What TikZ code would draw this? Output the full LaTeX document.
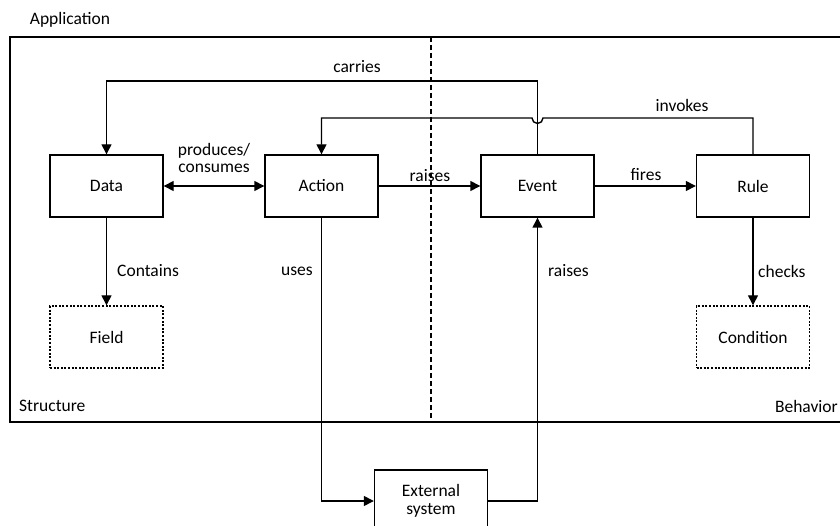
\documentclass[tikz,border=0pt]{standalone}
\usepackage{fontspec}
\setmainfont{Carlito}
\usetikzlibrary{arrows.meta}

\tikzset{
  box/.style={draw, line width=1.4pt, minimum width=113pt, minimum height=62pt,
              align=center, inner sep=2pt, font=\fontsize{17.5}{20}\selectfont},
  dotbox/.style={box, dash pattern=on 2pt off 1.6pt},
  conn/.style={line width=1.4pt},
  arr/.style={conn, -{Triangle[length=10pt,width=10pt]}},
  biarr/.style={conn, {Triangle[length=10pt,width=10pt]}-{Triangle[length=10pt,width=10pt]}},
  lbl/.style={font=\fontsize{17.5}{19}\selectfont, inner sep=0pt, align=center},
  frame/.style={draw, line width=1.4pt},
  divider/.style={line width=1.4pt, dash pattern=on 5pt off 3pt}
}

\begin{document}
\begin{tikzpicture}[x=1pt, y=-1pt]
  \useasboundingbox (0,0) rectangle (840,526);

  % application frame and structure/behavior divider
  \draw[frame] (10,37) rectangle (850,422);
  \coordinate (divtop) at (431,37);
  \coordinate (divbot) at (431,422);
  \draw[divider] (divtop) -- (divbot);

  \node[lbl] (app) at (70,20) {Application};
  \node[lbl, anchor=west] (structure) at (19,406) {Structure};
  \node[lbl, anchor=east] (behavior) at (838,406) {Behavior};

  % main elements
  \node[box] (data) at (106.5,186) {Data};
  \node[box] (action) at (321.5,186) {Action};
  \node[box] (event) at (537.5,186) {Event};
  \node[box] (rule) at (753,186) {Rule};
  \node[dotbox] (field) at (106.5,337) {Field};
  \node[dotbox] (condition) at (753,337) {Condition};
  \node[box] (ext) at (431,501) {External\\[-2pt]system};

  % connectors
  \draw[biarr] (data.east) -- (action.west);
  \node[lbl] (prodlbl) at (214,158) {produces/\\[-2pt]consumes};

  \draw[arr] (action.east) -- (event.west);
  \node[lbl] (raiseslbl) at (430,176) {raises};

  \draw[arr] (event.east) -- (rule.west);
  \node[lbl] (fireslbl) at (646,175) {fires};

  \draw[arr] (data.south) -- (field.north);
  \node[lbl, anchor=west] (containslbl) at (117,271) {Contains};

  \draw[arr] (rule.south) -- (condition.north);
  \node[lbl, anchor=west] (checkslbl) at (758,271) {checks};

  % event carries data
  \coordinate (carryR) at (537.5,81);
  \draw[arr] (event.north) -- (carryR) -| (data.north);
  \node[lbl] (carrieslbl) at (357,67) {carries};

  % rule invokes action, hopping over the carries line
  \coordinate (hopR) at (543,118);
  \draw[arr] (rule.north) |- (hopR) arc[start angle=0, end angle=180, radius=5.5] -| (action.north);
  \node[lbl] (invokeslbl) at (682,105) {invokes};

  % external system
  \draw[arr] (action.south) |- (ext.west);
  \node[lbl, anchor=east] (useslbl) at (313,271) {uses};
  \draw[arr] (ext.east) -| (event.south);
  \node[lbl, anchor=west] (raises2lbl) at (548,271) {raises};
\end{tikzpicture}
\end{document}
